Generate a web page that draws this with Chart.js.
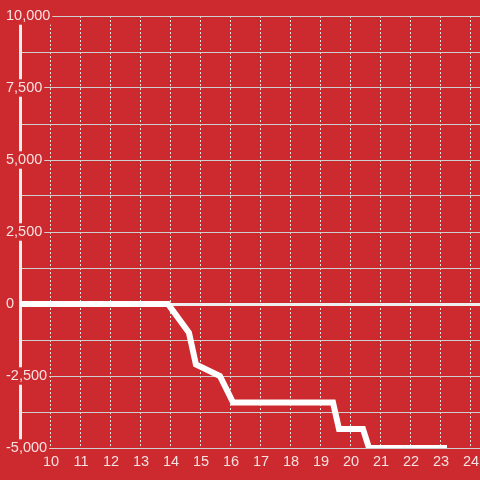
<!DOCTYPE html>
<html>
<head>
    <title>Line chart</title>
    <script src="https://cdnjs.cloudflare.com/ajax/libs/Chart.js/4.4.1/chart.umd.min.js"></script>
    <style>
        body {
            margin: 0;
            background-color: #cc2a2e;
        }
        #chartBox {
            width: 480px;
            height: 480px;
        }
    </style>
</head>
<body>
    <div id="chartBox">
        <canvas id="lineChart" width="480" height="480"></canvas>
    </div>

    <script>
        const xValues = [8.5, 13.9, 14.6, 14.83, 15.63, 16.07, 19.4, 19.6, 20.4, 20.6, 23.2];
        const yValues = [0, 0, -1000, -2100, -2500, -3420, -3420, -4340, -4340, -5000, -5000];
        const xTicks = [10, 11, 12, 13, 14, 15, 16, 17, 18, 19, 20, 21, 22, 23, 24];
        const yLabelStep = 2500;

        const labelColor = 'rgba(255, 255, 255, 0.86)';
        const points = xValues.map((x, i) => ({ x: x, y: yValues[i] }));

        const ctx = document.getElementById('lineChart').getContext('2d');
        const lineChart = new Chart(ctx, {
            type: 'line',
            data: {
                datasets: [{
                    data: points,
                    borderColor: '#ffffff',
                    borderWidth: 6,
                    borderJoinStyle: 'miter',
                    pointRadius: 0,
                    tension: 0,
                    fill: false
                }]
            },
            options: {
                responsive: false,
                animation: false,
                layout: {
                    padding: { top: 16, left: 5, right: 0, bottom: 0 }
                },
                plugins: {
                    legend: { display: false },
                    tooltip: { enabled: false }
                },
                scales: {
                    x: {
                        type: 'linear',
                        min: 8.967,
                        max: 24.3,
                        afterBuildTicks: function(axis) {
                            axis.ticks = xTicks.map(v => ({ value: v }));
                        },
                        afterFit: function(axis) {
                            axis.height = 32;
                            axis.paddingLeft = 0;
                            axis.paddingRight = 0;
                        },
                        ticks: {
                            color: labelColor,
                            font: { family: 'Liberation Sans', size: 14.5 },
                            padding: 5,
                            maxRotation: 0,
                            autoSkip: false
                        },
                        grid: {
                            color: '#e2e2e2',
                            lineWidth: 1,
                            drawTicks: false
                        },
                        border: {
                            display: false,
                            dash: [2, 2]
                        }
                    },
                    y: {
                        min: -5000,
                        max: 10000,
                        afterFit: function(axis) {
                            axis.width = 15;
                        },
                        ticks: {
                            stepSize: 1250,
                            mirror: true,
                            crossAlign: 'near',
                            padding: -14,
                            color: labelColor,
                            font: { family: 'Liberation Sans', size: 14.5 },
                            showLabelBackdrop: true,
                            backdropColor: '#cc2a2e',
                            backdropPadding: { top: 0, bottom: 0, left: 2, right: 2 },
                            callback: function(value) {
                                return value % yLabelStep === 0 ? value.toLocaleString('en-US') : '';
                            }
                        },
                        grid: {
                            drawTicks: false,
                            color: function(c) {
                                return c.tick && c.tick.value === 0 ? '#eeeeee' : '#cfcfcf';
                            },
                            lineWidth: function(c) {
                                return c.tick && c.tick.value === 0 ? 3 : 1;
                            }
                        },
                        border: {
                            display: true,
                            color: '#eeeeee',
                            width: 3
                        }
                    }
                }
            }
        });
    </script>
</body>
</html>
